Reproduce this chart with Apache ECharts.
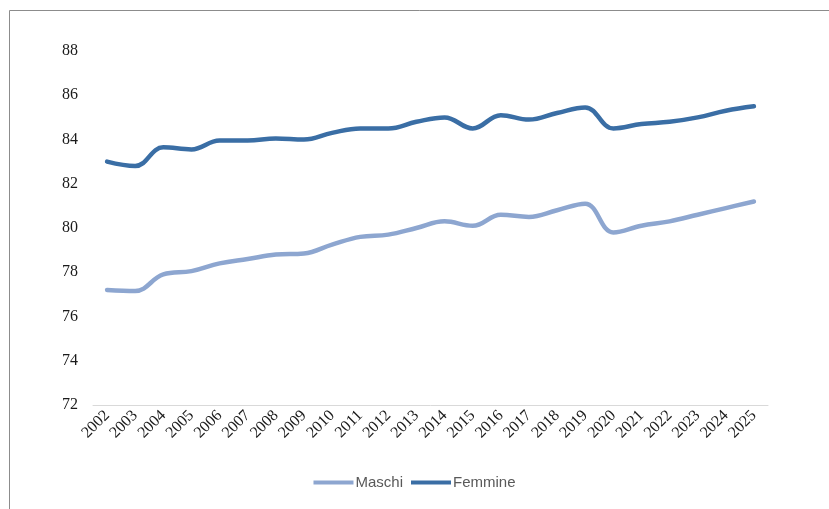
<!DOCTYPE html>
<html>
<head>
<meta charset="utf-8">
<script src="https://cdn.jsdelivr.net/npm/echarts@6/dist/echarts.min.js"></script>
<style>
html,body{margin:0;padding:0;background:#fff;}
#c{width:829px;height:509px;}
</style>
</head>
<body>
<div id="c"></div>
<script>
const years = ['2002','2003','2004','2005','2006','2007','2008','2009','2010','2011','2012','2013','2014','2015','2016','2017','2018','2019','2020','2021','2022','2023','2024','2025'];
const maschi = [77.2,77.15,77.9,78.05,78.4,78.6,78.8,78.85,79.25,79.6,79.7,80.0,80.3,80.1,80.6,80.5,80.8,81.1,79.8,80.1,80.3,80.6,80.9,81.2];
const femmine = [83.0,82.8,83.65,83.55,83.95,83.95,84.05,84.0,84.3,84.5,84.5,84.8,85.0,84.5,85.1,84.9,85.2,85.45,84.5,84.7,84.8,85.0,85.3,85.5];
const yTicks = [72,74,76,78,80,82,84,86,88];

const chart = echarts.init(document.getElementById('c'), null, {renderer:'canvas'});
chart.setOption({
  animation:false,
  backgroundColor:'#fff',
  graphic:[{
    type:'rect', left:7, top:8, shape:{x:0,y:0,width:900,height:600},
    style:{fill:null, stroke:'#8c8c8c', lineWidth:1}, silent:true, z:-1
  }],
  grid:{left:93, right:61, top:51, bottom:104, containLabel:false},
  legend:{
    bottom:14, left:'center', itemWidth:40, itemHeight:4, itemGap:8,
    icon:'rect',
    textStyle:{fontFamily:'Liberation Sans, Arial, sans-serif', fontSize:15, color:'#595959', padding:[0,0,0,-3]},
    data:['Maschi','Femmine']
  },
  xAxis:{
    type:'category', data:years, boundaryGap:true,
    axisLine:{show:true, lineStyle:{color:'#d9d9d9', width:1}},
    axisTick:{show:false},
    axisLabel:{rotate:45, interval:0, margin:8, fontFamily:'Liberation Serif, DejaVu Serif, serif', fontSize:16, color:'#1a1a1a'}
  },
  yAxis:{
    type:'value', min:72, max:88, interval:2,
    axisLine:{show:false}, axisTick:{show:false},
    splitLine:{show:false},
    axisLabel:{margin:15, fontFamily:'Liberation Serif, DejaVu Serif, serif', fontSize:16, color:'#1a1a1a',
      formatter:function(v){return yTicks.indexOf(v)>=0?String(v):'';}}
  },
  series:[
    {name:'Maschi', type:'line', data:maschi, smooth:0.4, symbol:'none',
      lineStyle:{color:'#8DA6D0', width:4.5, cap:'round'}, itemStyle:{color:'#8DA6D0'}},
    {name:'Femmine', type:'line', data:femmine, smooth:0.4, symbol:'none',
      lineStyle:{color:'#3A6EA5', width:4.5, cap:'round'}, itemStyle:{color:'#3A6EA5'}}
  ]
});
</script>
</body>
</html>
